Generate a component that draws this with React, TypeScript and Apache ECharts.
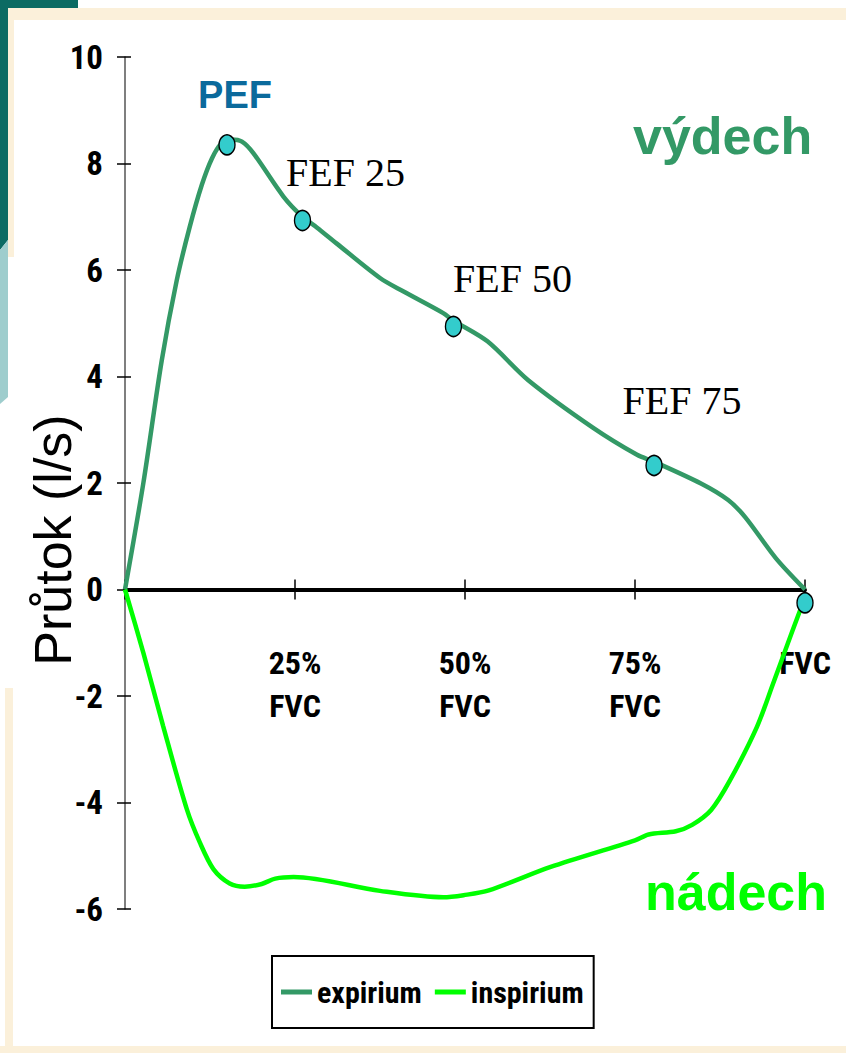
import React, { useEffect, useRef } from "react";
import * as echarts from "echarts";

// ---- data (volume in % FVC, flow in l/s) ----
const expVolume = [0, 2.7, 5.4, 7.6, 9.5, 11.3, 12.8, 14.2, 15.6, 17.2, 18.9, 23.3, 26.1, 28.2, 31.1, 37.5, 40.9, 46.8, 48.3, 53.3, 59.3, 68.8, 75.3, 77.8, 84.7, 88.7, 91.2, 95.7, 100];
const expFlow = [0, 2.0, 4.3, 5.8, 6.8, 7.6, 8.1, 8.38, 8.45, 8.41, 8.19, 7.38, 7.0, 6.8, 6.5, 5.85, 5.6, 5.19, 5.05, 4.66, 3.93, 3.04, 2.53, 2.4, 1.99, 1.68, 1.36, 0.59, 0];

const inspVolume = [0, 2.7, 5.6, 9.1, 11.0, 13.0, 15.4, 17.6, 20.1, 22.1, 24.8, 37.5, 46.8, 49.8, 53.5, 62.6, 75.0, 77.0, 81.0, 83.4, 86.2, 88.9, 92.9, 95.3, 99.5, 100];
const inspFlow = [0, -1.19, -2.56, -4.13, -4.75, -5.25, -5.52, -5.58, -5.53, -5.43, -5.4, -5.66, -5.78, -5.74, -5.65, -5.21, -4.71, -4.6, -4.54, -4.42, -4.14, -3.6, -2.59, -1.77, -0.32, -0.22];

const markerNames = ["PEF", "FEF 25", "FEF 50", "FEF 75", "FVC"];
const markerVolume = [15.0, 26.1, 48.3, 77.8, 100];
const markerFlow = [8.35, 6.93, 4.94, 2.33, -0.25];

const seriesNames = ["expirium", "inspirium"];
const xTickLabels: Record<number, string> = { 0: "", 25: "25%\nFVC", 50: "50%\nFVC", 75: "75%\nFVC", 100: "FVC" };
const yTitle = "Průtok (l/s)";
const expText = "výdech";
const inspText = "nádech";

// ---- styles ----
const NARROW = "'Roboto Condensed', 'DejaVu Sans Condensed', 'Liberation Sans Narrow', 'Arial Narrow', 'Liberation Sans', sans-serif";
const SANS = "'Liberation Sans', Arial, sans-serif";
const SERIF = "'Liberation Serif', 'Times New Roman', serif";
const EXP_COLOR = "#339966";
const INSP_COLOR = "#00FF00";
const BEIGE = "#FBF0DA";

const GRID_TOP = 57;
const GRID_BOTTOM = 144;
const PAGE_H = 1053;
const Y_MIN = -6;
const Y_MAX = 10;
// offset that lifts the x axis from the grid bottom to the zero line
const ZERO_OFFSET = -((PAGE_H - GRID_BOTTOM - GRID_TOP) * (0 - Y_MIN)) / (Y_MAX - Y_MIN);

const markerLabelStyles: any[] = [
  { offset: [8, -20], fontFamily: SANS, fontWeight: "bold", fontSize: 38, color: "#0B6A9C" },
  { offset: [43, -17], fontFamily: SERIF, fontSize: 40, color: "#000" },
  { offset: [59, -17], fontFamily: SERIF, fontSize: 40, color: "#000" },
  { offset: [28, -34], fontFamily: SERIF, fontSize: 40, color: "#000" },
  null,
];

export default function App() {
  const ref = useRef<HTMLDivElement>(null);
  useEffect(() => {
    document.body.style.margin = "0";
    const chart = echarts.init(ref.current!, null, { renderer: "svg" });

    const expData = expVolume.map((v, i) => [v, expFlow[i]]);
    const inspData = inspVolume.map((v, i) => [v, inspFlow[i]]);
    const markerData = markerNames.map((n, i) => {
      const st = markerLabelStyles[i];
      return {
        name: n,
        value: [markerVolume[i], markerFlow[i]],
        label: st
          ? { show: true, position: "top", distance: 0, formatter: n, ...st }
          : { show: false },
      };
    });

    const xCommon = { type: "value", min: 0, max: 100, interval: 25, splitLine: { show: false }, position: "bottom", offset: ZERO_OFFSET };
    const yCommon = { type: "value", min: Y_MIN, max: Y_MAX, interval: 2, splitLine: { show: false }, position: "left" };
    const tickStyle = { color: "#000", width: 1.5 };

    chart.setOption({
      animation: false,
      backgroundColor: "#fff",
      grid: { left: 125, right: 41, top: GRID_TOP, bottom: GRID_BOTTOM, containLabel: false },
      xAxis: [
        {
          ...xCommon,
          axisLine: { onZero: false, lineStyle: { color: "#000", width: 4 } },
          axisTick: { show: true, length: 10, lineStyle: tickStyle },
          axisLabel: {
            margin: 52,
            fontFamily: NARROW,
            fontWeight: "bold",
            fontSize: 32,
            lineHeight: 43,
            color: "#000",
            formatter: (v: number) => xTickLabels[v] ?? "",
          },
        },
        {
          ...xCommon,
          axisLine: { show: false, onZero: false },
          axisTick: { show: true, inside: true, length: 10, lineStyle: tickStyle },
          axisLabel: { show: false },
        },
      ],
      yAxis: [
        {
          ...yCommon,
          axisLine: { onZero: false, lineStyle: { color: "#555", width: 1.5 } },
          axisTick: { show: true, length: 8, lineStyle: tickStyle },
          axisLabel: { margin: 22, fontFamily: NARROW, fontWeight: "bold", fontSize: 33, color: "#000" },
        },
        {
          ...yCommon,
          axisLine: { show: false, onZero: false },
          axisTick: { show: true, inside: true, length: 6, lineStyle: tickStyle },
          axisLabel: { show: false },
        },
      ],
      legend: {
        data: seriesNames,
        left: 272,
        top: 956,
        icon: "rect",
        itemWidth: 31,
        itemHeight: 5,
        itemGap: 13,
        padding: [21, 10, 21, 9],
        borderColor: "#000",
        borderWidth: 2,
        backgroundColor: "#fff",
        textStyle: { fontFamily: NARROW, fontWeight: "bold", fontSize: 30, color: "#000" },
      },
      graphic: [
        { type: "polygon", shape: { points: [[0, 0], [78, 0], [78, 8], [8, 8], [8, 240], [0, 250]] }, style: { fill: "#0B6B63" }, z: -1 },
        { type: "polygon", shape: { points: [[0, 250], [8, 240], [8, 397], [0, 404]] }, style: { fill: "#9ECDCD" }, z: -1 },
        { type: "rect", shape: { x: 8, y: 8, width: 838, height: 12 }, style: { fill: BEIGE }, z: -1 },
        { type: "rect", shape: { x: 8, y: 20, width: 6, height: 237 }, style: { fill: BEIGE }, z: -1 },
        { type: "rect", shape: { x: 5, y: 688, width: 8, height: 360 }, style: { fill: BEIGE }, z: -1 },
        { type: "rect", shape: { x: 0, y: 1046, width: 846, height: 7 }, style: { fill: BEIGE }, z: -1 },
        {
          type: "text",
          x: 53,
          y: 540,
          rotation: Math.PI / 2,
          style: { text: yTitle, fontFamily: SANS, fontSize: 52, fill: "#000", align: "center", verticalAlign: "middle" },
        },
        {
          type: "text",
          x: 633,
          y: 136,
          style: { text: expText, fontFamily: SANS, fontWeight: "bold", fontSize: 52, fill: EXP_COLOR, align: "left", verticalAlign: "middle" },
        },
        {
          type: "text",
          x: 645,
          y: 892,
          style: { text: inspText, fontFamily: SANS, fontWeight: "bold", fontSize: 52, fill: INSP_COLOR, align: "left", verticalAlign: "middle" },
        },
      ],
      series: [
        {
          name: seriesNames[0],
          type: "line",
          data: expData,
          smooth: 0.3,
          symbol: "none",
          color: EXP_COLOR,
          lineStyle: { color: EXP_COLOR, width: 4.5 },
          z: 3,
        },
        {
          name: seriesNames[1],
          type: "line",
          data: inspData,
          smooth: 0.3,
          symbol: "none",
          color: INSP_COLOR,
          lineStyle: { color: INSP_COLOR, width: 4.5 },
          z: 3,
        },
        {
          name: "markers",
          type: "scatter",
          data: markerData,
          symbol: "circle",
          symbolSize: [16, 20],
          itemStyle: { color: "#33CCCC", borderColor: "#000", borderWidth: 1.5, opacity: 1 },
          z: 5,
        },
      ],
    });
    return () => chart.dispose();
  }, []);
  return <div ref={ref} style={{ width: 846, height: 1053, background: "#fff" }} />;
}
